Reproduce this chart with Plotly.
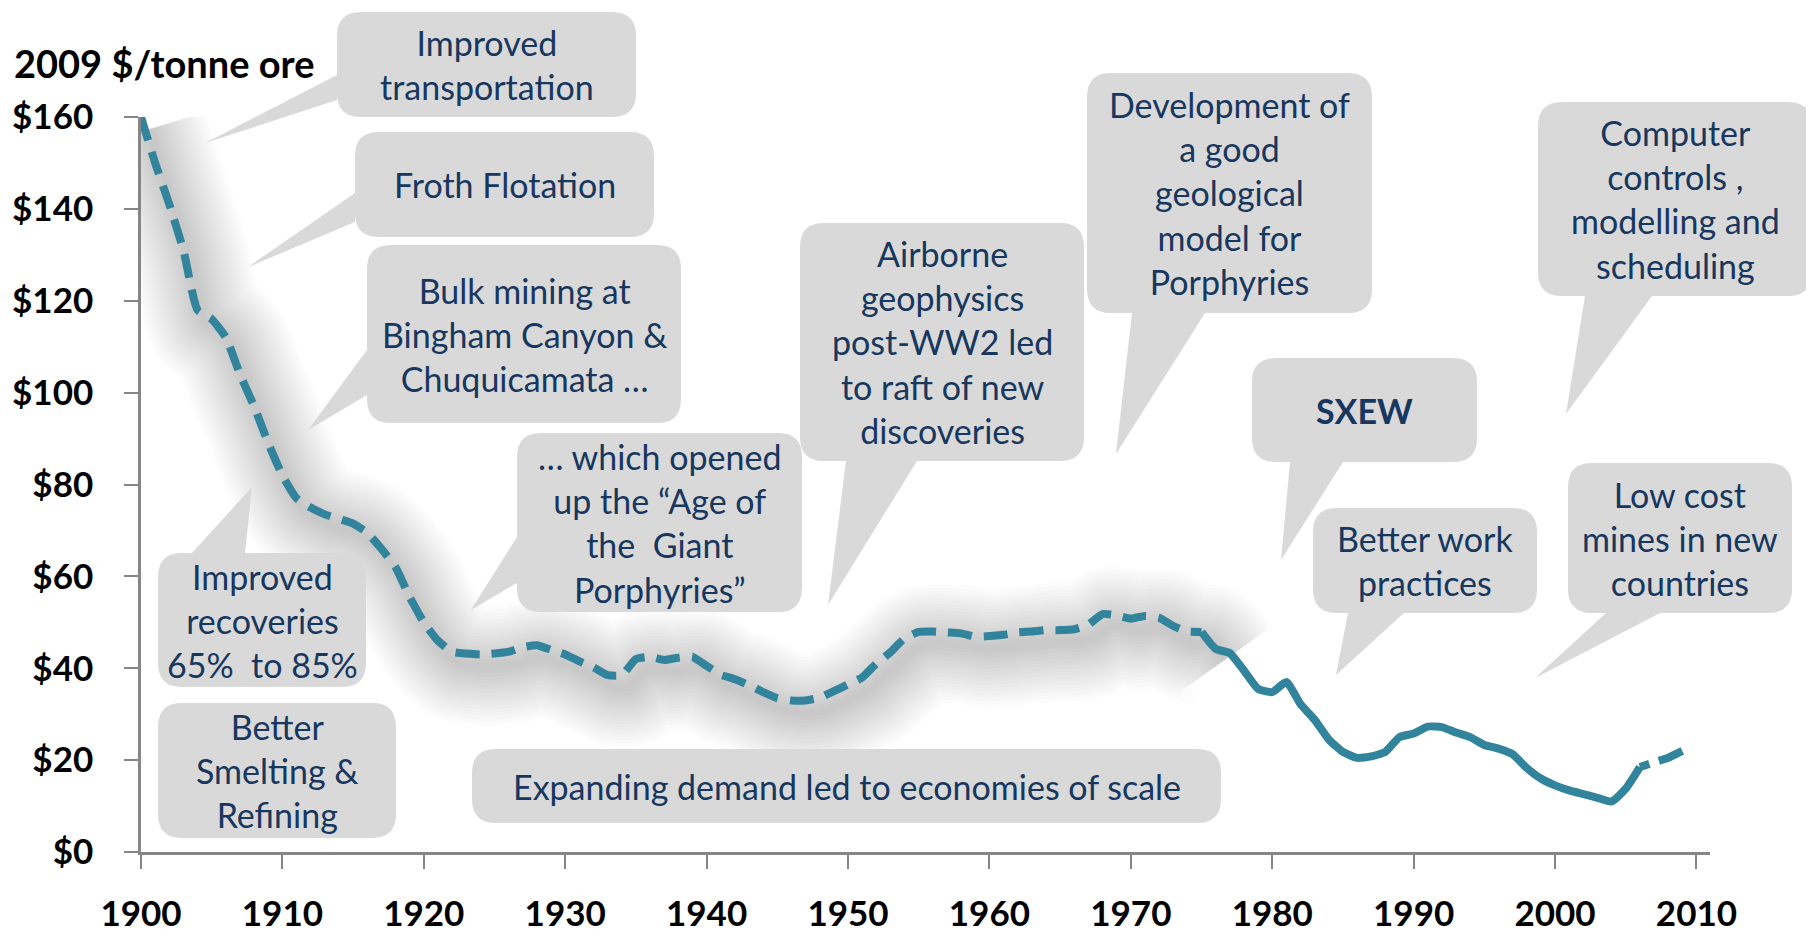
import plotly.graph_objects as go

# ---------------- data ----------------
years = list(range(1900, 2010))
cost = [
    160, 150, 141, 131, 118, 116, 112, 104, 97, 89,
    82, 77, 75, 73.5, 72.5, 71.5, 69.5, 66, 62, 55.5,
    50, 46, 43.6, 43.2, 43, 43.2, 43.6, 44.6, 45, 44,
    43, 41.5, 40.2, 38.5, 38.5, 42, 42.5, 41.8, 42.3, 42.5,
    40.5, 38.6, 37.6, 36.3, 34.8, 33.5, 33, 33, 33.6, 35,
    36.5, 38, 41, 43.5, 46.5, 47.9, 48, 47.8, 47.6, 46.9,
    47, 47.3, 47.8, 48, 48.3, 48.3, 48.5, 49.5, 51.8, 51.5,
    50.8, 51.4, 51, 49.2, 48, 47.9, 44.2, 43.3, 39.5, 35.5,
    34.8, 37, 32.2, 28.8, 24.5, 21.8, 20.5, 20.8, 21.8, 25,
    25.8, 27.3, 27.2, 26, 25, 23.3, 22.5, 21.3, 18.3, 16,
    14.5, 13.4, 12.6, 11.8, 11, 13.8, 18.5, 19.5, 20.5, 22,
]
solid_start = 1975
solid_end = 2006

y_ticks = [0, 20, 40, 60, 80, 100, 120, 140, 160]
x_ticks = list(range(1900, 2011, 10))
y_title = "2009 $/tonne ore"

callouts = [
    "Improved<br>transportation",
    "Froth Flotation",
    "Bulk mining at<br>Bingham Canyon &<br>Chuquicamata …",
    "Improved<br>recoveries<br>65%  to 85%",
    "Better<br>Smelting &<br>Refining",
    "… which opened<br>up the “Age of<br>the  Giant<br>Porphyries”",
    "Expanding demand led to economies of scale",
    "Airborne<br>geophysics<br>post-WW2 led<br>to raft of new<br>discoveries",
    "Development of<br>a good<br>geological<br>model for<br>Porphyries",
    "<b>SXEW</b>",
    "Computer<br>controls ,<br>modelling and<br>scheduling",
    "Better work<br>practices",
    "Low cost<br>mines in new<br>countries",
]

# ---------------- layout geometry (screen pixels) ----------------
OFF = 8                      # default page margin around the plot div
W_FIG, H_FIG = 1814 - OFF, 936 - OFF
PL, PT, PR, PB = 141, 117, 1710, 852          # plot area on screen
L, T = PL - OFF, PT - OFF
R, B = W_FIG - (PR - OFF), H_FIG - (PB - OFF)
PW, PH = PR - PL, PB - PT
X_RANGE = [1900, 2010.96]
Y_RANGE = [0, 160]

# box: (x0, y0, x1, y1), tail: (side, b1, b2, tipx, tipy) or None
boxes = [
    ((337, 12, 636, 117), ("left", 75, 100, 205, 143)),
    ((355, 132, 654, 237), ("left", 193, 222, 248, 267)),
    ((367, 245, 681, 423), ("left", 350, 395, 308, 430)),
    ((158, 553, 366, 687), ("top", 192, 245, 252, 487)),
    ((158, 703, 396, 838), None),
    ((517, 433, 802, 612), ("left", 537, 583, 471, 610)),
    ((472, 749, 1221, 823), None),
    ((800, 223, 1084, 461), ("bottom", 846, 917, 828, 605)),
    ((1087, 73, 1372, 313), ("bottom", 1132, 1205, 1116, 454)),
    ((1252, 358, 1477, 462), ("bottom", 1290, 1343, 1281, 560)),
    ((1538, 102, 1812, 296), ("bottom", 1585, 1652, 1566, 414)),
    ((1313, 508, 1537, 613), ("bottom", 1348, 1404, 1336, 675)),
    ((1568, 463, 1792, 613), ("bottom", 1606, 1660, 1535, 678)),
]


def P(x, y):
    return (x - PL) / PW, (PB - y) / PH


def fmt(x, y):
    px, py = P(x, y)
    return f"{px:.5f},{py:.5f}"


def callout_path(box, tail, r=24):
    x0, y0, x1, y1 = box
    d = [f"M{fmt(x0 + r, y0)}"]
    if tail and tail[0] == "top":
        _, b1, b2, tx, ty = tail
        d += [f"L{fmt(b1, y0)}", f"L{fmt(tx, ty)}", f"L{fmt(b2, y0)}"]
    d += [f"L{fmt(x1 - r, y0)}", f"Q{fmt(x1, y0)} {fmt(x1, y0 + r)}",
          f"L{fmt(x1, y1 - r)}", f"Q{fmt(x1, y1)} {fmt(x1 - r, y1)}"]
    if tail and tail[0] == "bottom":
        _, b1, b2, tx, ty = tail
        d += [f"L{fmt(b2, y1)}", f"L{fmt(tx, ty)}", f"L{fmt(b1, y1)}"]
    d += [f"L{fmt(x0 + r, y1)}", f"Q{fmt(x0, y1)} {fmt(x0, y1 - r)}"]
    if tail and tail[0] == "left":
        _, b1, b2, tx, ty = tail
        d += [f"L{fmt(x0, b2)}", f"L{fmt(tx, ty)}", f"L{fmt(x0, b1)}"]
    d += [f"L{fmt(x0, y0 + r)}", f"Q{fmt(x0, y0)} {fmt(x0 + r, y0)}", "Z"]
    return " ".join(d)


LINE_COLOR = "#31849B"
TEXT_COLOR = "#17375E"
FONT = "Lato"

i_s = years.index(solid_start)
i_e = years.index(solid_end)

fig = go.Figure()

# soft shadow under the dashed part (drawn on a slightly offset hidden axis pair)
for k in range(18):
    w = 8 + k * 6.5
    fig.add_trace(go.Scatter(
        x=years[:i_s + 2], y=cost[:i_s + 2], mode="lines",
        line=dict(color="rgba(40,40,40,0.012)", width=w, shape="spline", smoothing=0.6),
        hoverinfo="skip", showlegend=False, xaxis="x", yaxis="y"))

# main series
fig.add_trace(go.Scatter(
    x=years[:i_s + 1], y=cost[:i_s + 1], mode="lines",
    line=dict(color=LINE_COLOR, width=8, dash="24px,12px", shape="spline", smoothing=0.5),
    showlegend=False, xaxis="x2", yaxis="y2"))
fig.add_trace(go.Scatter(
    x=years[i_s:i_e + 1], y=cost[i_s:i_e + 1], mode="lines",
    line=dict(color=LINE_COLOR, width=8, shape="spline", smoothing=0.5),
    showlegend=False, xaxis="x2", yaxis="y2"))
fig.add_trace(go.Scatter(
    x=years[i_e:], y=cost[i_e:], mode="lines",
    line=dict(color=LINE_COLOR, width=8, dash="10px,10px,60px", shape="spline", smoothing=0.5),
    showlegend=False, xaxis="x2", yaxis="y2"))

shapes = []
annotations = []
for (box, tail), txt in zip(boxes, callouts):
    shapes.append(dict(type="path", xref="paper", yref="paper",
                       path=callout_path(box, tail), fillcolor="#D9D9D9",
                       line=dict(width=0), layer="above"))
    cx, cy = P((box[0] + box[2]) / 2, (box[1] + box[3]) / 2)
    annotations.append(dict(x=cx, y=cy, xref="paper", yref="paper", text=txt,
                            showarrow=False, xanchor="center", yanchor="middle",
                            align="center",
                            font=dict(family=FONT, size=34, color=TEXT_COLOR)))

tx, ty = P(12, 63)
annotations.append(dict(x=tx, y=ty, xref="paper", yref="paper",
                        text=f"<b>{y_title}</b>", showarrow=False,
                        xanchor="left", yanchor="middle",
                        font=dict(family=FONT, size=38, color="#000000")))

# offset (shadow) axes: shift data ~8px right and ~12px down
dx = 8 / PW * (X_RANGE[1] - X_RANGE[0])
dy = 12 / PH * (Y_RANGE[1] - Y_RANGE[0])

fig.update_layout(
    width=W_FIG, height=H_FIG,
    margin=dict(l=L, r=R, t=T, b=B, autoexpand=False),
    paper_bgcolor="white", plot_bgcolor="rgba(0,0,0,0)",
    showlegend=False,
    font=dict(family=FONT, color="#000000"),
    xaxis=dict(range=[X_RANGE[0] - dx, X_RANGE[1] - dx], visible=False,
               fixedrange=True, automargin=False),
    yaxis=dict(range=[Y_RANGE[0] + dy, Y_RANGE[1] + dy], visible=False,
               fixedrange=True, automargin=False),
    xaxis2=dict(range=X_RANGE, overlaying="x", anchor="y2", side="bottom",
                tickvals=x_ticks, ticktext=[str(v) for v in x_ticks],
                showgrid=False, zeroline=False, showline=True, automargin=False,
                linecolor="#868686", linewidth=2.5,
                ticks="outside", ticklen=14, tickwidth=2, tickcolor="#868686",
                ticklabelstandoff=15,
                tickfont=dict(family=FONT, size=35, color="#000000", weight="bold")),
    yaxis2=dict(range=Y_RANGE, overlaying="y", anchor="x2", side="left",
                tickvals=y_ticks, ticktext=[f"${v}" for v in y_ticks],
                showgrid=False, zeroline=False, showline=True, automargin=False,
                linecolor="#868686", linewidth=2.5,
                ticks="outside", ticklen=14, tickwidth=2, tickcolor="#868686",
                ticklabelstandoff=24,
                tickfont=dict(family=FONT, size=35, color="#000000", weight="bold")),
    shapes=shapes,
    annotations=annotations,
)

fig.write_html("out.html")
